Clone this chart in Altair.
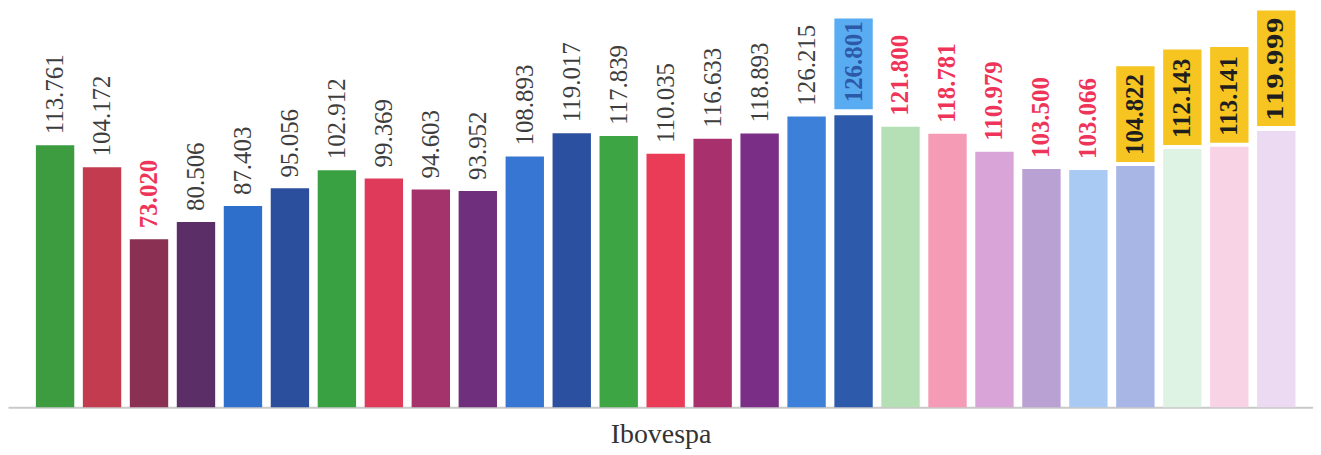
import altair as alt
import pandas as pd

# Ibovespa (thousands of points)
periods = [f"p{i:02d}" for i in range(1, 28)]
values = [113.761, 104.172, 73.020, 80.506, 87.403, 95.056, 102.912, 99.369, 94.603,
          93.952, 108.893, 119.017, 117.839, 110.035, 116.633, 118.893, 126.215, 126.801,
          121.800, 118.781, 110.979, 103.500, 103.066, 104.822, 112.143, 113.141, 119.999]
colors = ["#3d9b40", "#c23b4e", "#8a3052", "#5b2e68", "#2f6fcc", "#2b4f9c",
          "#3aa142", "#e03a5a", "#a3336a", "#6f2f7c", "#3776d2", "#2c50a0",
          "#3ea545", "#ea3b57", "#a8306c", "#7a2e86", "#3d80da", "#2d5aaa",
          "#b5e0b5", "#f59bb6", "#d9a4d8", "#baa1d4", "#a9caf3", "#a8b6e6",
          "#dff3e4", "#f7d3e5", "#ecd9f2"]
# label style: n normal, r red bold, b blue box, y yellow box, big large yellow box
styles = ["n", "n", "r", "n", "n", "n", "n", "n", "n", "n", "n", "n", "n", "n",
          "n", "n", "n", "b", "r", "r", "r", "r", "r", "y", "y", "y", "big"]

df = pd.DataFrame({"period": periods, "value": values, "color": colors, "style": styles})

xenc = alt.X("period:N", sort=None,
             scale=alt.Scale(paddingInner=0.183, paddingOuter=0.4835, align=0.614),
             axis=alt.Axis(title="Ibovespa", labels=False, ticks=False,
                           domainColor="#c9c9c9", domainWidth=2,
                           titleFont="Liberation Serif", titleFontSize=28,
                           titleFontWeight="normal", titleColor="#333333",
                           titlePadding=13))
yscale = alt.Scale(domain=[0, 173])
yenc = alt.Y("value:Q", scale=yscale, axis=None)

base = alt.Chart(df)

bars = base.mark_bar().encode(x=xenc, y=yenc, color=alt.Color("color:N", scale=None))

def box(style, color, off, off2):
    return base.transform_filter(alt.datum.style == style).mark_rect(
        color=color, yOffset=off, y2Offset=off2
    ).encode(x=xenc, y=yenc, y2="value:Q")

def label(style, color, weight, dx, font="Liberation Serif", size=25):
    return base.transform_filter(alt.datum.style == style).mark_text(
        angle=270, align="left", baseline="middle", dx=dx,
        font=font, fontSize=size, fontWeight=weight, color=color
    ).encode(x=xenc, y=yenc, text=alt.Text("value:Q", format=".3f"))

chart = alt.layer(
    bars,
    box("b", "#5aacf2", -6, -97),
    box("y", "#f6c522", -4, -100),
    box("big", "#f6c522", -5, -121),
    label("n", "#3d3d3d", "normal", 11),
    label("r", "#ef3459", "bold", 11),
    label("b", "#2d5aa8", "bold", 13),
    label("y", "#1e1e1e", "bold", 11),
    label("big", "#1e1e1e", "bold", 10, font="DejaVu Serif", size=23),
).properties(
    width=1310, height=400,
    background="white",
    padding={"left": 0, "top": 0, "right": 0, "bottom": 0},
).configure_view(strokeWidth=0, stroke="transparent")

chart.save("out.html", embed_options={"renderer": "svg", "actions": False})
